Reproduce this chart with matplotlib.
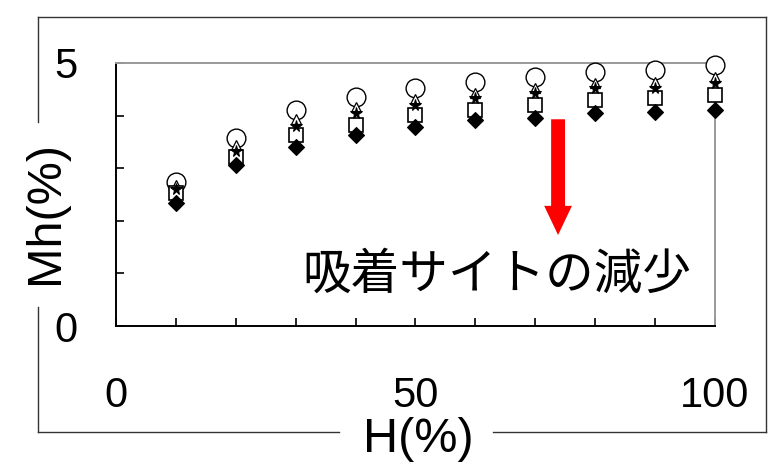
import matplotlib
matplotlib.use("Agg")
import matplotlib.pyplot as plt
from matplotlib.lines import Line2D
from matplotlib import font_manager

# Relative humidity H(%) and moisture content Mh(%) for each sample
humidity = [10, 20, 30, 40, 50, 60, 70, 80, 90, 100]
mh_circle = [2.74, 3.57, 4.11, 4.35, 4.52, 4.64, 4.73, 4.83, 4.87, 4.96]
mh_triangle = [2.68, 3.45, 3.93, 4.17, 4.32, 4.43, 4.53, 4.62, 4.64, 4.74]
mh_square = [2.53, 3.21, 3.63, 3.82, 4.01, 4.11, 4.20, 4.30, 4.33, 4.39]
mh_star = [2.60, 3.33, 3.80, 4.05, 4.20, 4.33, 4.43, 4.52, 4.52, 4.62]
mh_diamond = [2.34, 3.06, 3.40, 3.63, 3.78, 3.92, 3.95, 4.05, 4.07, 4.11]

x_ticks = [0, 50, 100]
y_ticks = [0, 5]
note_text = "吸着サイトの減少"

installed = {f.name for f in font_manager.fontManager.ttflist}
LATIN = "Liberation Sans Narrow" if "Liberation Sans Narrow" in installed else "Liberation Sans"
CJK = ["Noto Sans CJK JP", "DejaVu Sans"]

W, H = 770, 468
fig = plt.figure(figsize=(W / 100, H / 100), dpi=100)
ax = fig.add_axes([0.1506, 0.3034, 0.7780, 0.5620])

common = dict(ls="none", clip_on=False)
ax.plot(humidity, mh_circle, marker="o", ms=13.5, mfc="white",
        mec="black", mew=1.0, zorder=3, **common)
ax.plot(humidity, mh_triangle, marker="^", ms=7, mfc="white",
        mec="black", mew=0.9, zorder=4, **common)
ax.plot(humidity, mh_square, marker="s", ms=9.5, mfc="white",
        mec="black", mew=1.2, zorder=5, **common)
ax.plot(humidity, mh_star, marker="*", ms=8.5, mfc="black",
        mec="black", mew=0.8, zorder=6, **common)
ax.plot(humidity, mh_diamond, marker="D", ms=8, mfc="black",
        mec="black", mew=0.8, zorder=7, **common)

ax.set_xlim(0, 100)
ax.set_ylim(0, 5)
ax.set_xticks(range(0, 101, 10))
ax.set_xticklabels([str(v) if v in x_ticks else "" for v in range(0, 101, 10)])
ax.set_yticks(range(0, 6))
ax.set_yticklabels([str(v) if v in y_ticks else "" for v in range(0, 6)])
ax.tick_params(axis="both", direction="in", length=6, width=1.2,
               color="black", labelsize=30)
ax.tick_params(axis="x", pad=36)
ax.tick_params(axis="y", pad=28)
for lab in ax.get_xticklabels() + ax.get_yticklabels():
    lab.set_fontfamily(LATIN)

for side in ("left", "bottom"):
    ax.spines[side].set_color("black")
    ax.spines[side].set_linewidth(1.4)
for side in ("top", "right"):
    ax.spines[side].set_color("#9a9a9a")
    ax.spines[side].set_linewidth(1.4)

# Red arrow pointing down toward the annotation
ax.annotate("", xy=(73.8, 1.73), xytext=(73.8, 3.93),
            arrowprops=dict(arrowstyle="simple,head_length=1.05,head_width=1.0,tail_width=0.5",
                            mutation_scale=20, fc="#ff0000", ec="none",
                            shrinkA=0, shrinkB=0), zorder=8)
ax.text(63.6, 0.97, note_text, ha="center", va="center", fontsize=35,
        family=CJK, color="black", zorder=9)


def px(x, y):
    """Pixel position (from top-left) to figure fraction."""
    return x / W, 1 - y / H


def seg(p0, p1):
    (x0, y0), (x1, y1) = px(*p0), px(*p1)
    fig.add_artist(Line2D([x0, x1], [y0, y1], transform=fig.transFigure,
                          color="#333333", lw=1.0, zorder=1))


# Outer frame, open where the axis titles sit
L, R, T, B = 38, 766, 17, 432
seg((L, T), (R, T))
seg((R, T), (R, B))
seg((L, B), (339, B))
seg((493, B), (R, B))
seg((L, T), (L, 122))
seg((L, 307), (L, B))

fig.text(*px(418, 440), "H(%)", ha="center", va="center", fontsize=35,
         family=LATIN, zorder=5)
fig.text(*px(45, 212), "Mh(%)", ha="center", va="center", fontsize=35,
         rotation=90, family=LATIN, zorder=5)

fig.savefig("out.png", dpi=100, facecolor="white")
